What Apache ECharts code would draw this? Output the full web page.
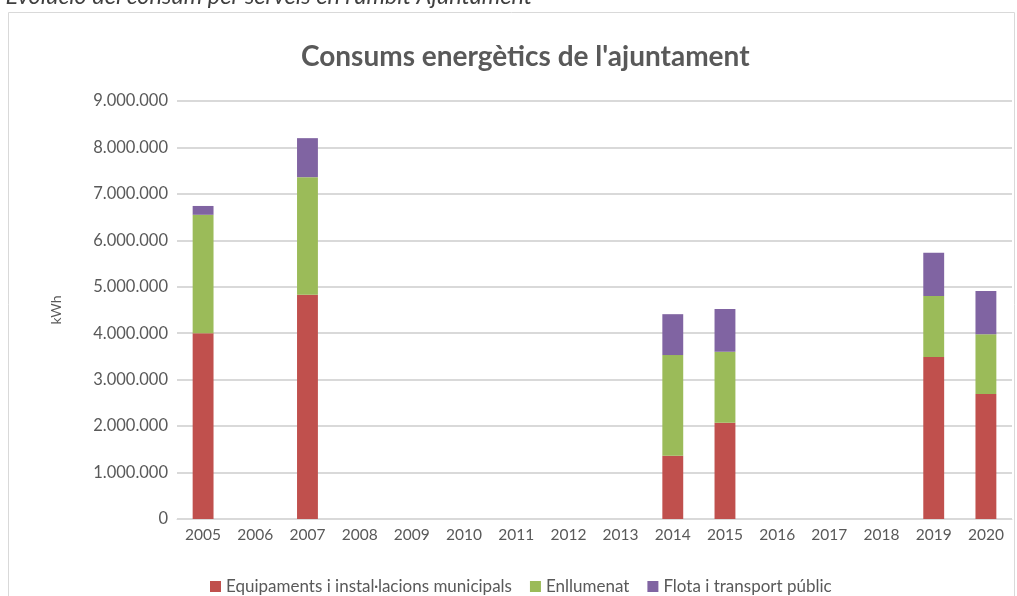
<!DOCTYPE html>
<html>
<head>
<meta charset="utf-8">
<script src="https://cdn.jsdelivr.net/npm/echarts@6/dist/echarts.min.js"></script>
<style>
html,body{margin:0;padding:0;background:#fff;}
#main{width:1017px;height:596px;}
</style>
</head>
<body>
<div id="main"></div>
<script>
var years = ['2005','2006','2007','2008','2009','2010','2011','2012','2013','2014','2015','2016','2017','2018','2019','2020'];
// kWh per servei (null = sense dades)
var equipaments = [4000000,null,4830000,null,null,null,null,null,null,1360000,2070000,null,null,null,3490000,2690000];
var enllumenat  = [2550000,null,2530000,null,null,null,null,null,null,2170000,1530000,null,null,null,1310000,1290000];
var flota       = [190000,null,840000,null,null,null,null,null,null,880000,920000,null,null,null,930000,930000];
var yTicks = [0,1000000,2000000,3000000,4000000,5000000,6000000,7000000,8000000,9000000];

var font = 'Lato';
var grey = '#595959';

function fmt(v){
	return String(v).replace(/\B(?=(\d{3})+(?!\d))/g,'.');
}

var myChart = echarts.init(document.getElementById('main'));
var option = {
	animation:false,
	textStyle:{fontFamily:font},
	title:{
		text:"Consums energètics de l'ajuntament",
		left:296,
		top:38,
		textStyle:{fontSize:28,fontWeight:'bold',color:grey,fontFamily:font}
	},
	graphic:[
		{
			type:'rect',
			shape:{x:8.5,y:12.5,width:1006,height:600},
			style:{fill:'none',stroke:'#d9d9d9',lineWidth:1}
		},
		{
			type:'text',
			left:-6,
			top:-15,
			style:{
				text:"· Evolució del consum per serveis en l'àmbit Ajuntament",
				font:'italic 23.5px '+font,
				fill:'#404040'
			}
		}
	],
	legend:{
		bottom:-4,
		left:205,
		itemWidth:11,
		itemHeight:11,
		itemGap:18,
		icon:'rect',
		textStyle:{fontSize:17,color:grey,fontFamily:font}
	},
	grid:{left:177,right:5,top:101,bottom:77},
	xAxis:{
		type:'category',
		data:years,
		axisTick:{show:false},
		axisLine:{lineStyle:{color:'#d9d9d9',width:1}},
		axisLabel:{fontSize:15.5,color:grey,margin:8}
	},
	yAxis:{
		type:'value',
		min:yTicks[0],
		max:yTicks[yTicks.length-1],
		interval:1000000,
		name:'kWh',
		nameLocation:'middle',
		nameGap:114,
		nameTextStyle:{fontSize:14,color:grey},
		axisLabel:{fontSize:16.5,color:grey,margin:9,formatter:fmt},
		splitLine:{lineStyle:{color:'#d9d9d9',width:2}}
	},
	series:[
		{name:'Equipaments i instal·lacions municipals',type:'bar',stack:'t',data:equipaments,barWidth:'40%',itemStyle:{color:'#c0504d'}},
		{name:'Enllumenat',type:'bar',stack:'t',data:enllumenat,itemStyle:{color:'#9bbb59'}},
		{name:'Flota i transport públic',type:'bar',stack:'t',data:flota,itemStyle:{color:'#8064a2'}}
	]
};
myChart.setOption(option,true);
</script>
</body>
</html>
